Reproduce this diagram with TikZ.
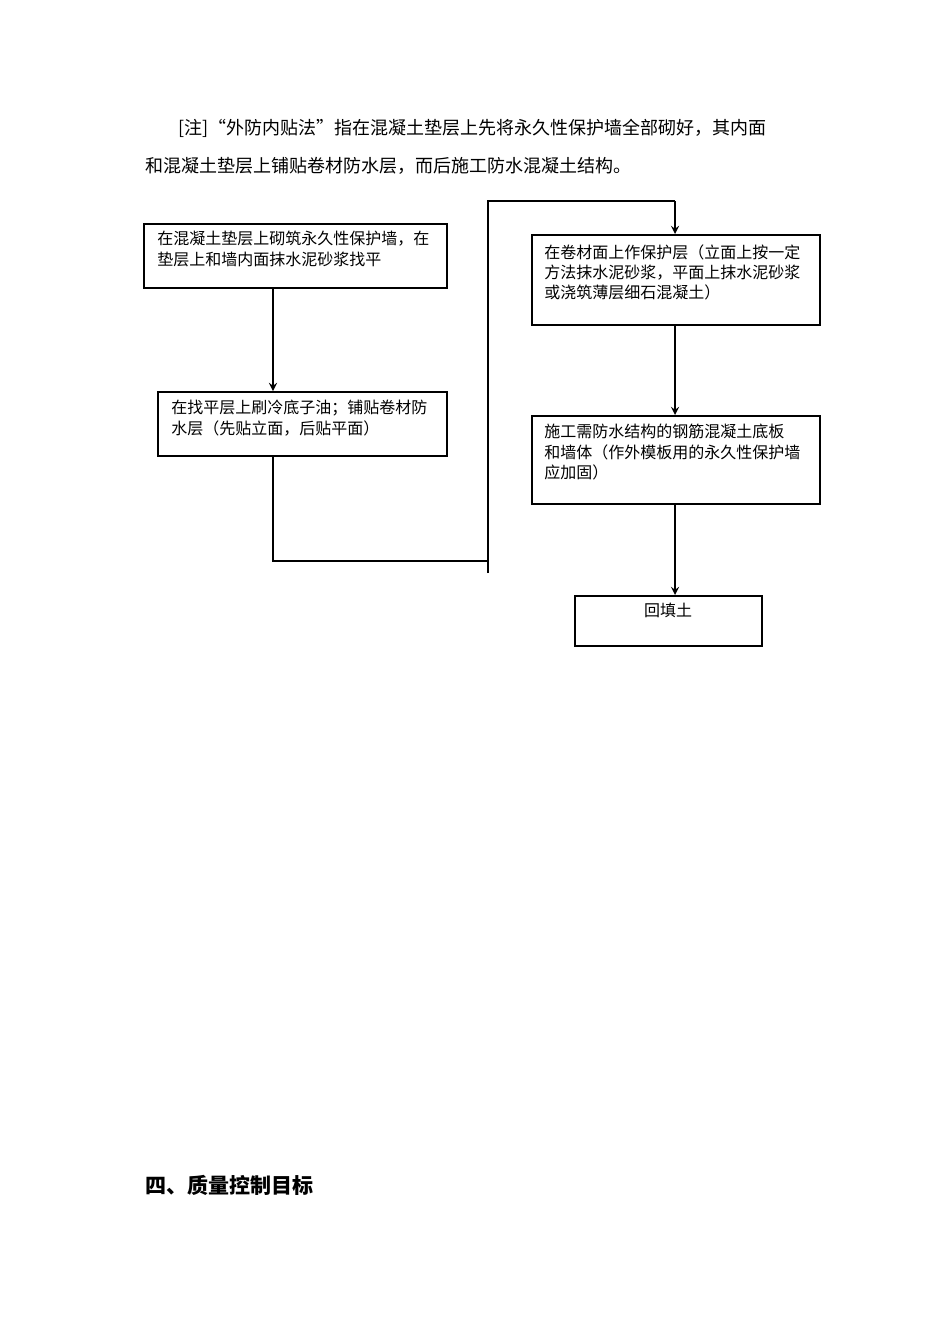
\documentclass[tikz,border=0pt]{standalone}
\usepackage{fontspec}
\setmainfont{Noto Sans CJK SC}
\usetikzlibrary{positioning}

\tikzset{
  stepbox/.style={draw, thick, inner sep=0pt, font=\fontsize{8pt}{10.2pt}\selectfont, anchor=north west},
  flow/.style={thick, ->, >=stealth},
}

\begin{document}
\begin{tikzpicture}[x=0.5pt, y=-0.5pt]

            \useasboundingbox (0,0) rectangle (950,1344);

            % note above the chart
            \node[anchor=west, font=\fontsize{9pt}{11pt}\selectfont, inner sep=0pt] (noteA) at (178,128)
                {[注]“外防内贴法”指在混凝土垫层上先将永久性保护墙全部砌好，其内面};
            \node[anchor=west, font=\fontsize{9pt}{11pt}\selectfont, inner sep=0pt] (noteB) at (145,166)
                {和混凝土垫层上铺贴卷材防水层，而后施工防水混凝土结构。};

            % boxes
            \node[stepbox, minimum width=151.5pt, minimum height=32pt] (wall) at (143,223) {};
            \node[anchor=north west, inner sep=0pt, align=left, font=\fontsize{8pt}{10.2pt}\selectfont] (wallT) at (157,231)
                {在混凝土垫层上砌筑永久性保护墙，在\\垫层上和墙内面抹水泥砂浆找平};

            \node[stepbox, minimum width=144.5pt, minimum height=32pt] (felt) at (157,391) {};
            \node[anchor=north west, inner sep=0pt, align=left, font=\fontsize{8pt}{10.2pt}\selectfont] (feltT) at (171,400)
                {在找平层上刷冷底子油；铺贴卷材防\\水层（先贴立面，后贴平面）};

            \node[stepbox, minimum width=144pt, minimum height=45pt] (cover) at (531,234) {};
            \node[anchor=north west, inner sep=0pt, align=left, font=\fontsize{8pt}{10.2pt}\selectfont] (coverT) at (544,244)
                {在卷材面上作保护层（立面上按一定\\方法抹水泥砂浆，平面上抹水泥砂浆\\或浇筑薄层细石混凝土）};

            \node[stepbox, minimum width=144pt, minimum height=44pt] (slab) at (531,415) {};
            \node[anchor=north west, inner sep=0pt, align=left, font=\fontsize{8pt}{10.2pt}\selectfont] (slabT) at (544,424)
                {施工需防水结构的钢筋混凝土底板\\和墙体（作外模板用的永久性保护墙\\应加固）};

            \node[stepbox, minimum width=93.5pt, minimum height=25pt] (fill) at (574,595) {};
            \node[anchor=north, inner sep=0pt, font=\fontsize{8pt}{10.2pt}\selectfont] (fillT) at (668,603) {回填土};

            % connectors
            \coordinate (turnA) at (273,561);
            \coordinate (turnB) at (488,561);
            \coordinate (stub) at (488,573);
            \coordinate (turnC) at (488,201);
            \coordinate (turnD) at (675,201);

            \draw[flow] (wall.south -| 273,0) -- (felt.north -| 273,0);
            \draw[thick] (felt.south -| 273,0) -- (turnA) -- (turnB);
            \draw[thick] (stub) -- (turnC) -- (turnD);
            \draw[flow] (turnD) -- (cover.north -| 675,0);
            \draw[flow] (cover.south -| 675,0) -- (slab.north -| 675,0);
            \draw[flow] (slab.south -| 675,0) -- (fill.north -| 675,0);

            % heading
            \node[anchor=west, inner sep=0pt, font=\fontsize{10.5pt}{12pt}\selectfont\bfseries] (head) at (145,1185) {四、质量控制目标};

\end{tikzpicture}
\end{document}
